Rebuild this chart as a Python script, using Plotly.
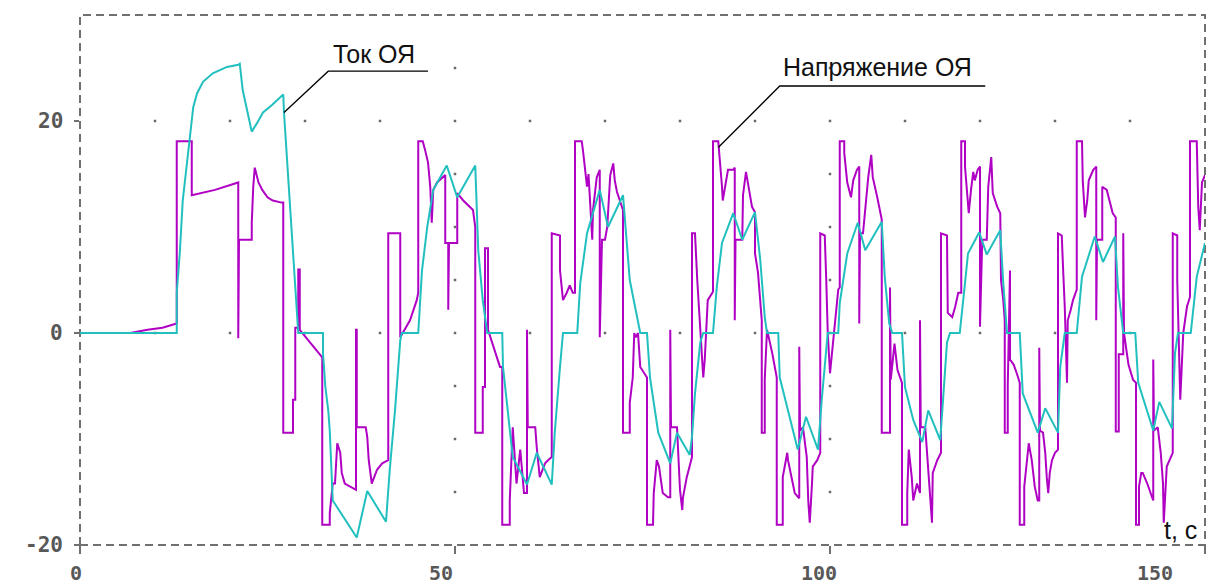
import plotly.graph_objects as go

# Armature current (A) versus time (s)
current_t = [0, 12.9, 12.9, 13.3, 13.7, 14.3, 14.7, 15.1, 15.6, 16.4, 17.7, 19.6, 21.1, 21.3, 21.7, 22.4,
             22.9, 23.6, 24.4, 25.6, 26.7, 27.1, 27.2, 27.6, 28.0, 28.4, 28.9, 29.1, 32.4, 32.4, 32.7, 33.1,
             33.3, 33.5, 33.7, 36.9, 38.3, 40.8, 41.3, 42.0, 42.7, 42.9, 45.1, 45.6, 46.3, 47.1, 48.9, 50.3,
             52.7, 53.1, 53.7, 54.3, 56.3, 56.4, 57.1, 57.7, 59.6, 60.9, 62.9, 63.3, 64.0, 64.4, 66.3, 66.7,
             67.6, 69.3, 70.4, 72.4, 73.3, 74.3, 74.7, 75.6, 76.0, 77.1, 78.7, 79.6, 81.3, 81.6, 82.0, 82.7,
             83.1, 84.4, 84.9, 85.6, 87.1, 88.3, 90.0, 90.7, 91.3, 91.6, 93.1, 93.3, 94.3, 95.7, 96.8, 98.4,
             98.9, 99.6, 99.7, 101.1, 101.3, 102.3, 103.7, 104.7, 106.9, 107.3, 107.9, 108.3, 109.6, 110.0,
             111.1, 112.3, 113.1, 114.7, 114.9, 115.6, 116.0, 117.3, 118.0, 118.4, 119.9, 120.9, 122.7, 123.1,
             123.6, 125.3, 125.7, 127.7, 128.7, 130.4, 130.7, 131.3, 132.9, 133.6, 135.3, 136.4, 138.0, 138.4,
             139.1, 140.7, 141.1, 143.1, 143.9, 145.6, 146.0, 146.4, 148.1, 148.9, 150.0]
current_a = [0, 0, 3.8, 7.5, 12.5, 16.3, 19.2, 21.3, 22.6, 23.7, 24.5, 25.1, 25.3, 25.4, 22.9, 20.8,
             19.0, 19.8, 20.8, 21.5, 22.2, 22.5, 20.8, 16.6, 11.9, 8.1, 3.1, 0, 0, -1.9, -5.0, -7.3,
             -9.2, -12.0, -15.8, -19.3, -14.9, -17.8, -12.9, -7.3, -0.7, 0, 0, 5.9, 10.0, 13.5, 15.8, 12.8,
             15.8, 7.8, 3.1, 0, 0, -3.2, -7.9, -11.7, -14.3, -11.3, -14.3, -9.4, -3.2, 0, 0, 4.7,
             9.4, 13.5, 10.0, 13.0, 5.0, 1.5, 0, 0, -4.2, -9.4, -12.3, -9.4, -11.5, -9.8, -5.7, -0.9,
             0, 0, 4.3, 8.5, 11.3, 8.8, 11.4, 6.9, 1.5, 0, 0, -4.2, -7.0, -11.0, -7.9, -11.0,
             -6.3, -0.9, 0, 0, 2.8, 7.5, 10.4, 7.8, 10.5, 5.3, 0.9, 0, 0, -5.1,
             -8.2, -10.3, -7.3, -10.1, -7.9, -0.9, 0, 0, 4.7, 7.5, 9.5, 7.4, 9.7, 4.7,
             0, 0, -5.7, -9.4, -7.1, -9.4, -3.2, 0, 0, 5.3, 9.1, 6.7, 9.1, 4.3,
             0, 0, -4.7, -9.2, -6.5, -9.0, -1.9, 0, 0, 5.3, 8.5]

# Armature voltage (V) versus time (s)
voltage_t = [0, 6.7, 9.0, 11.0, 12.9, 12.9, 14.9, 14.9, 18.0, 21.1, 21.1, 21.2, 22.9, 22.9, 23.1, 23.3,
             23.8, 24.3, 25.0, 25.7, 26.9, 27.1, 27.1, 28.4, 28.4, 28.7, 28.7, 29.1, 29.1, 29.3, 29.3, 32.3,
             32.3, 33.3, 33.3, 33.7, 34.0, 34.3, 34.7, 34.9, 35.3, 36.8, 36.8, 36.9, 36.9, 38.1, 38.3, 38.5,
             38.9, 39.6, 40.3, 41.1, 41.1, 42.7, 42.7, 43.3, 44.0, 44.9, 45.1, 45.1, 45.7, 46.0, 46.4, 46.7,
             46.9, 47.1, 47.6, 48.7, 48.7, 49.1, 49.1, 49.2, 50.3, 50.3, 51.1, 52.0, 52.4, 52.7, 52.7, 53.7,
             53.7, 54.0, 54.0, 54.4, 54.4, 56.0, 56.3, 56.3, 57.3, 57.3, 57.7, 58.2, 58.7, 59.2, 59.6, 59.6,
             59.7, 60.7, 60.9, 61.3, 62.0, 62.4, 62.9, 62.9, 64.0, 64.0, 64.4, 64.9, 65.3, 65.7, 66.0, 66.0,
             66.9, 67.1, 67.3, 67.6, 67.8, 68.0, 68.3, 68.4, 68.9, 69.3, 69.3, 69.6, 70.0, 70.3, 70.7, 71.1,
             71.3, 71.6, 72.0, 72.4, 72.4, 73.3, 73.3, 73.7, 73.9, 74.1, 74.4, 74.7, 75.6, 75.6, 76.4, 76.5,
             76.9, 77.2, 77.7, 78.4, 78.7, 78.7, 78.8, 79.6, 79.7, 80.0, 80.3, 80.4, 80.9, 81.6, 81.6, 82.0,
             82.3, 82.9, 83.1, 83.3, 83.6, 83.7, 84.4, 84.4, 85.1, 85.3, 85.6, 85.7, 86.0, 86.4, 87.1, 87.3,
             87.3, 87.4, 88.3, 88.4, 88.8, 89.1, 89.6, 90.0, 90.0, 90.4, 90.9, 90.9, 91.3, 91.3, 91.6, 92.3,
             92.9, 92.9, 93.7, 93.7, 94.3, 94.4, 94.9, 95.3, 95.9, 95.9, 96.0, 96.4, 96.9, 97.1, 97.3, 97.6,
             97.7, 98.3, 98.7, 98.7, 99.3, 99.5, 99.7, 100.0, 100.3, 100.7, 100.9, 101.1, 101.3, 101.3, 101.9, 101.9,
             102.3, 102.8, 103.1, 103.6, 103.9, 103.9, 104.0, 104.4, 105.1, 105.5, 105.7, 106.3, 106.7, 106.9, 106.9, 108.0,
             108.0, 108.1, 108.6, 109.0, 109.6, 109.6, 110.3, 110.3, 110.5, 110.9, 111.1, 111.6, 112.0, 112.0, 112.1, 112.7,
             112.9, 113.3, 113.6, 113.7, 114.3, 114.8, 114.8, 115.6, 115.6, 115.7, 116.3, 116.7, 117.1, 117.5, 117.5, 118.0,
             118.0, 118.3, 118.5, 118.8, 119.1, 119.3, 119.7, 120.0, 120.0, 120.3, 120.9, 121.1, 121.5, 121.7, 122.3, 122.7,
             122.8, 123.1, 123.3, 123.3, 123.7, 123.7, 124.0, 124.0, 124.5, 124.9, 125.3, 125.3, 125.9, 125.9, 126.3, 126.5,
             126.9, 127.3, 127.7, 127.9, 127.9, 128.0, 128.4, 128.7, 128.9, 129.1, 129.3, 129.6, 130.0, 130.4, 130.4, 130.9,
             131.1, 131.3, 131.6, 131.7, 132.1, 132.4, 132.9, 132.9, 133.6, 133.7, 134.0, 134.3, 134.5, 135.1, 135.5, 135.5,
             135.6, 136.3, 136.3, 136.9, 137.3, 137.7, 138.1, 138.1, 138.5, 138.5, 139.1, 139.1, 139.2, 139.8, 140.4, 140.8,
             140.8, 141.2, 141.2, 141.5, 141.7, 142.3, 142.7, 143.1, 143.1, 143.2, 143.7, 144.1, 144.4, 144.5, 144.9, 145.3,
             145.7, 145.7, 146.3, 146.3, 146.5, 146.7, 147.1, 147.6, 148.0, 148.0, 148.9, 149.1, 149.3, 149.6, 150.0]
voltage_u = [0, 0, 0.3, 0.5, 0.9, 18.1, 18.1, 13.0, 13.5, 14.2, -0.5, 8.8, 8.8, 10.4, 13.8, 15.6,
             14.2, 13.5, 12.8, 12.5, 12.3, 12.3, -9.4, -9.4, -6.3, -6.3, 0.5, 0.5, 6.0, 6.0, 0.3, -2.3,
             -18.1, -18.1, -17.0, -14.2, -14.2, -10.4, -11.3, -13.2, -14.2, -14.8, 0.3, 0.3, -8.9, -8.9, -9.8, -12.0,
             -14.2, -12.9, -12.3, -12.0, 9.4, 9.4, -0.4, 0.3, 1.2, 3.1, 3.8, 18.1, 18.1, 17.3, 16.1, 13.8,
             10.4, 13.5, 14.2, 14.9, 8.5, 8.5, 2.2, 8.5, 8.5, 13.2, 12.5, 11.9, 11.6, 10.0, -9.4, -9.4,
             -5.1, -5.1, 8.0, 8.0, 0.3, -3.2, -3.2, -18.1, -18.1, -15.8, -8.9, -14.2, -11.0, -15.1, -15.1, 0.3,
             -8.9, -8.9, -10.8, -13.6, -12.3, -12.0, -11.7, 9.4, 9.2, 5.9, 3.1, 3.8, 4.5, 3.8, 3.8, 18.1,
             18.1, 17.0, 15.7, 13.8, 15.0, 12.5, 8.8, 11.6, 14.7, 15.4, -0.4, 8.8, 8.8, 10.0, 14.9, 16.0,
             14.4, 13.3, 12.5, 11.6, -9.4, -9.4, -6.6, -4.2, 0, -0.4, 0, -3.2, -4.2, -18.1, -18.1, -15.1,
             -12.0, -12.6, -15.1, -15.5, -15.5, 0.3, -8.9, -8.9, -10.1, -14.8, -16.7, -15.5, -13.6, -11.7, 9.4, 9.4,
             5.0, -2.3, -4.2, -2.5, 1.9, 3.1, 3.9, 18.1, 18.1, 16.6, 13.8, 12.5, 13.8, 15.4, 15.4, 15.6,
             1.2, 8.8, 8.8, 13.0, 15.2, 14.0, 11.9, 11.4, 7.5, 5.7, 1.2, -9.4, -9.4, -4.4, 0.3, -1.9,
             -4.2, -18.1, -18.1, -13.6, -11.3, -12.0, -13.9, -15.1, -15.6, -1.3, -9.2, -8.9, -11.7, -15.8, -17.9, -14.2,
             -12.6, -12.0, -11.3, 9.4, 9.2, 5.0, 0, -3.8, -1.6, 1.5, 2.8, 4.1, 4.3, 18.1, 18.1, 17.0,
             14.2, 12.8, 14.4, 15.4, 15.7, 0.9, 9.4, 9.4, 14.7, 16.8, 14.7, 12.8, 11.6, 10.7, -9.4, -9.4,
             4.3, -4.4, -1.0, -3.5, -4.7, -18.1, -18.1, -15.1, -11.0, -13.6, -15.8, -14.2, -15.1, 1.2, -8.9, -8.9,
             -11.0, -15.1, -17.9, -13.2, -12.0, -11.3, 9.4, 9.2, 5.7, 1.9, 1.5, 2.5, 3.8, 3.8, 18.1, 18.1,
             15.7, 13.2, 11.3, 13.5, 15.2, 14.4, 15.4, 15.7, 0.6, 8.8, 8.8, 13.8, 16.6, 13.2, 11.9, 11.3,
             5.0, 3.1, 1.2, -9.4, -9.4, -5.0, 5.9, -2.5, -3.0, -3.8, -4.7, -18.1, -18.1, -14.5, -11.3, -10.4,
             -12.0, -14.5, -15.8, -15.8, -1.4, -9.2, -9.4, -11.3, -13.6, -15.1, -13.2, -12.0, -11.3, -11.0, 9.4, 9.2,
             5.7, 2.5, -4.7, 1.2, 2.2, 3.1, 4.1, 18.1, 18.1, 14.4, 10.9, 12.5, 14.4, 15.4, 15.7, 1.2,
             8.8, 8.8, 13.8, 13.5, 12.5, 11.3, 10.9, -9.3, -9.3, -2.0, -2.0, 9.4, 0, -3.0, -4.4, -4.7,
             -18.1, -18.1, -14.5, -13.2, -13.2, -14.2, -15.1, -15.8, -2.5, -9.2, -8.9, -11.3, -14.2, -17.9, -12.6, -12.0,
             -11.3, 9.4, 9.2, 5.0, 0, -6.3, 0, 2.5, 3.4, 18.1, 18.1, 11.9, 9.7, 14.2, 14.9]

assert len(current_t) == len(current_a)
assert len(voltage_t) == len(voltage_u)

# Axis ticks and dotted grid nodes
x_ticks = [0, 50, 100, 150]
x_tick_text = ["0", "50", "100", "150"]
y_ticks = [-20, 0, 20]
y_tick_text = ["-20", "0", "20"]
grid_row_levels = [0, 20]
grid_row_steps = list(range(10, 150, 10))
grid_col_positions = [50, 100]
grid_col_levels = [-15, -10, -5, 5, 10, 15, 25]

MAGENTA = "#B000C4"
CYAN = "#22BFBF"
FRAME = "#707070"
LABEL = "#585858"
TEXT_FONT = "Liberation Sans, Arial, sans-serif"
TICK_FONT = "DejaVu Sans Mono, monospace"

fig = go.Figure()

# grid dots
gx, gy = [], []
for lvl in grid_row_levels:
    for t in grid_row_steps:
        gx.append(t)
        gy.append(lvl)
for t in grid_col_positions:
    for lvl in grid_col_levels:
        gx.append(t)
        gy.append(lvl)
fig.add_trace(go.Scatter(x=gx, y=gy, mode="markers",
                         marker=dict(size=2.5, color="#6a6a6a", symbol="square"),
                         hoverinfo="skip"))

fig.add_trace(go.Scatter(x=voltage_t, y=voltage_u, mode="lines", name="Напряжение ОЯ",
                         line=dict(color=MAGENTA, width=2)))
fig.add_trace(go.Scatter(x=current_t, y=current_a, mode="lines", name="Ток ОЯ",
                         line=dict(color=CYAN, width=2)))

# dashed frame around the plotting area
fig.add_shape(type="rect", xref="paper", yref="paper", x0=0, y0=0, x1=1, y1=1,
              line=dict(color=FRAME, width=2, dash="8px,5px"), layer="below")

# leader lines for the series captions
fig.add_shape(type="path", xref="x", yref="y",
              path="M 27.2,20.8 L 33.1,24.7 L 46.4,24.7",
              line=dict(color="#000000", width=1.3))
fig.add_shape(type="path", xref="x", yref="y",
              path="M 85.1,17.5 L 93.3,23.3 L 120.7,23.3",
              line=dict(color="#000000", width=1.3))

annotations = [
    dict(text="Ток ОЯ", x=33.4, y=26.3, xanchor="left", yanchor="middle",
         font=dict(family=TEXT_FONT, size=25, color="#111111")),
    dict(text="Напряжение ОЯ", x=93.4, y=25.1, xanchor="left", yanchor="middle",
         font=dict(family=TEXT_FONT, size=25, color="#111111")),
    dict(text="Uя, В", x=-9.3, y=28.9, xanchor="left", yanchor="middle",
         font=dict(family=TEXT_FONT, size=24, color="#111111")),
    dict(text="Iя, А", x=-8.6, y=25.9, xanchor="left", yanchor="middle",
         font=dict(family=TEXT_FONT, size=24, color="#111111")),
    dict(text="t, с", x=144.2, y=-18.6, xanchor="left", yanchor="middle",
         font=dict(family=TEXT_FONT, size=25, color="#111111")),
]

x_label_shift = [-4, -14, -11, -50]
for val, txt, sh in zip(x_ticks, x_tick_text, x_label_shift):
    annotations.append(dict(text="<b>" + txt + "</b>", x=val, xref="x", y=0, yref="paper",
                            xanchor="center", yanchor="middle", xshift=sh, yshift=-28,
                            borderpad=0,
                            font=dict(family=TICK_FONT, size=20, color=LABEL)))
for val, txt in zip(y_ticks, y_tick_text):
    annotations.append(dict(text="<b>" + txt + "</b>", x=0, xref="paper", y=val, yref="y",
                            xanchor="right", yanchor="middle", xshift=-15,
                            font=dict(family=TICK_FONT, size=21, color=LABEL)))

for a in annotations:
    a.setdefault("xref", "x")
    a.setdefault("yref", "y")
    a["showarrow"] = False

fig.update_layout(
    width=1209, height=586, autosize=False,
    margin=dict(l=80, r=4, t=15, b=41),
    paper_bgcolor="white", plot_bgcolor="white",
    showlegend=False,
    annotations=annotations,
    xaxis=dict(range=[0, 150], showgrid=False, zeroline=False, showline=False,
               tickvals=x_ticks, showticklabels=False, ticks="outside",
               ticklen=8, tickwidth=2, tickcolor=FRAME),
    yaxis=dict(range=[-20, 30], showgrid=False, zeroline=False, showline=False,
               tickvals=y_ticks, showticklabels=False, ticks="outside",
               ticklen=5, tickwidth=2, tickcolor=FRAME),
)

fig.write_html("out.html")
